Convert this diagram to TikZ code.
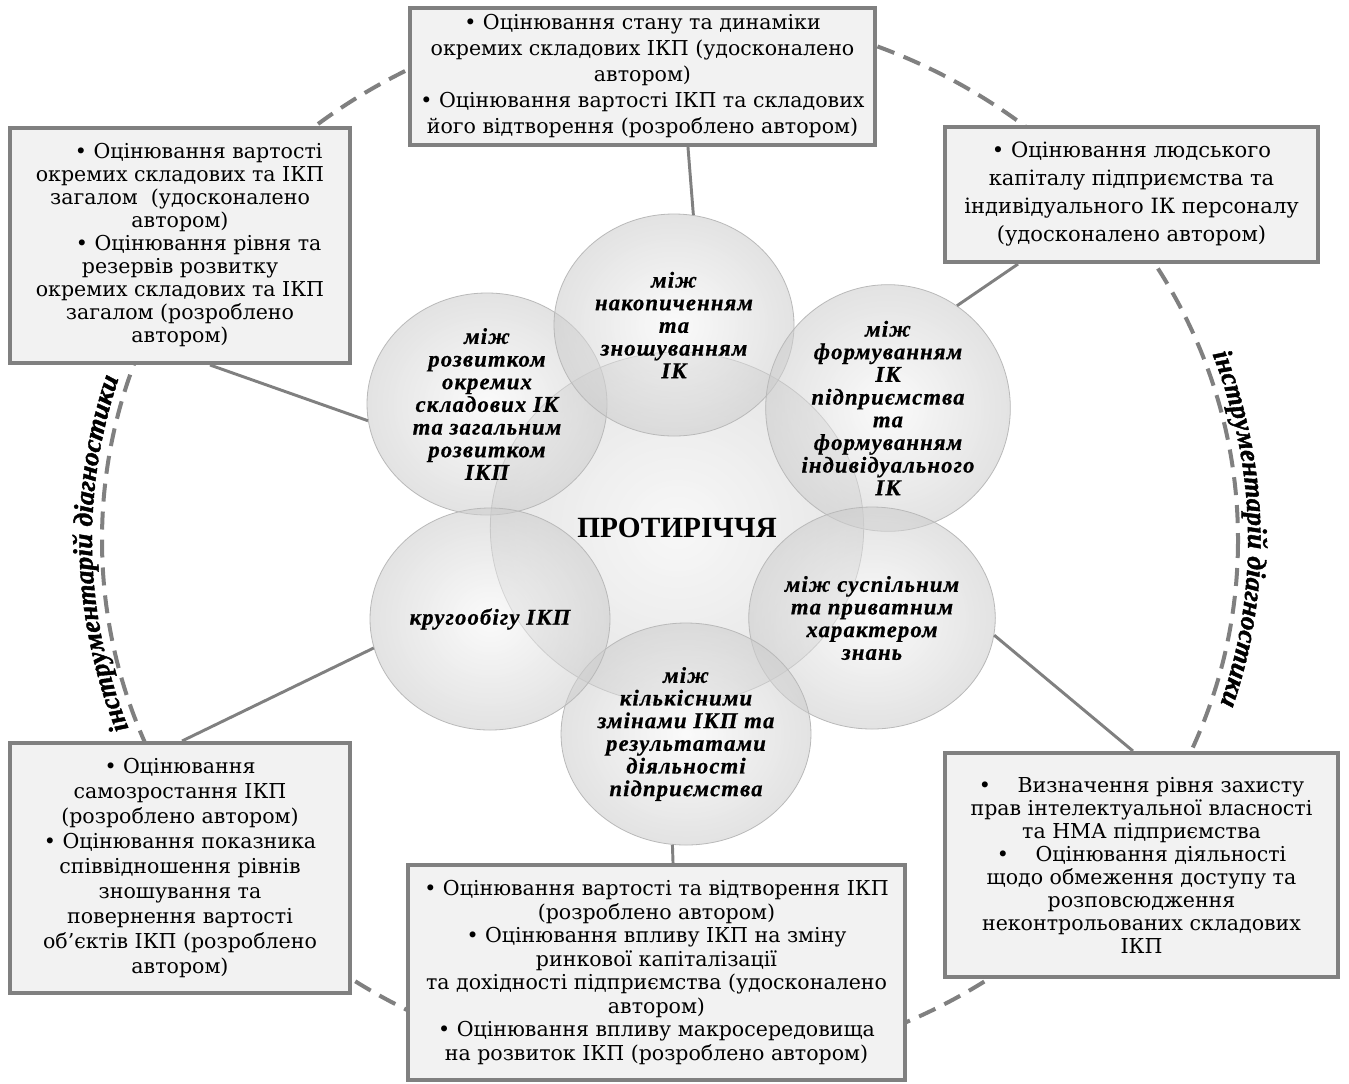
\documentclass[tikz,border=0pt]{standalone}
\usepackage{fontspec}
\setmainfont{DejaVu Serif}
\newfontfamily\circfont[LetterSpace=5.0,FakeBold=0.6]{Liberation Serif}
\newfontfamily\arcfont[FakeBold=1.5]{Liberation Serif Bold Italic}
\newfontfamily\headfont{Liberation Serif}
\usetikzlibrary{shapes.geometric,decorations.text}
\definecolor{boxfill}{HTML}{F2F2F2}
\definecolor{lineg}{HTML}{808080}
\begin{document}
\begin{tikzpicture}[x=0.75pt,y=-0.75pt,
  infobox/.style={draw=lineg, line width=3pt, fill=boxfill, inner sep=0pt, align=center,
    font=\fontsize{15.4pt}{#1}\selectfont},
  bubble/.style={ellipse, minimum width=180pt, minimum height=166.5pt, inner sep=0pt,
    draw=gray!55, line width=0.6pt, inner color=gray!6, outer color=gray!40,
    fill opacity=0.55, text opacity=1, align=center,
    font=\circfont\bfseries\itshape\fontsize{17pt}{17pt}\selectfont},
  bigbubble/.style={ellipse, minimum width=280pt, minimum height=264pt, inner sep=0pt,
    draw=gray!55, line width=0.6pt, inner color=gray!10, outer color=gray!35,
    fill opacity=0.55, text opacity=1,
    font=\headfont\bfseries\fontsize{22pt}{22pt}\selectfont},
  conn/.style={draw=lineg, line width=2.2pt},
  ring/.style={draw=lineg, line width=3pt, dash pattern=on 13.5pt off 7.5pt},
  arctext/.style={decorate, decoration={text along path, text align=center,
    text={|\arcfont\fontsize{20.5pt}{20.5pt}\selectfont|#1}}}
]
\fill[white] (0,0) rectangle (1349,1083);
\useasboundingbox (0,0) rectangle (1349,1083);

% dashed ring
\draw[ring] (670,540) ellipse [x radius=568, y radius=530];

% curved labels
\path[arctext={інструментарій діагностики}] (150.5,775.8) arc [start angle=154, end angle=203, x radius=578, y radius=538];
\path[arctext={інструментарій діагностики}] (1187.3,299.9) arc [start angle=-26.5, end angle=24.1, x radius=578, y radius=538];

% central circle
\node[bigbubble] (mid) at (677,528) {ПРОТИРІЧЧЯ};

% bubbles
\node[bubble] (c1) at (487,404) {між\\розвитком\\окремих\\складових ІК\\та загальним\\розвитком\\ІКП};
\node[bubble] (c2) at (674,325) {між\\накопиченням\\та\\зношуванням\\ІК};
\node[bubble] (c3) at (888,408) {між\\формуванням\\ІК\\підприємства\\та\\формуванням\\індивідуального\\ІК};
\node[bubble] (c4) at (872,618) {між суспільним\\та приватним\\характером\\знань};
\node[bubble] (c5) at (686,734) {між\\кількісними\\змінами ІКП та\\результатами\\діяльності\\підприємства};
\node[bubble] (c6) at (490,619) {кругообігу ІКП};

% boxes
\node[infobox=19.5pt, minimum width=348.75pt, minimum height=102.75pt] (bxT) at (642.5,76.5)
  {• Оцінювання стану та динаміки\\окремих складових ІКП (удосконалено\\автором)\\• Оцінювання вартості ІКП та складових\\його відтворення (розроблено автором)};
\node[infobox=21pt, minimum width=279.75pt, minimum height=101.25pt, font=\fontsize{15.8pt}{21pt}\selectfont] (bxTR) at (1131.5,194.5)
  {• Оцінювання людського\\капіталу підприємства та\\індивідуального ІК персоналу\\(удосконалено автором)};
\node[infobox=17.25pt, minimum width=255pt, minimum height=176.25pt] (bxTL) at (180,245.5)
  {\hspace*{28pt}• Оцінювання вартості\\окремих складових та ІКП\\загалом\ \ (удосконалено\\автором)\\\hspace*{28pt}• Оцінювання рівня та\\резервів розвитку\\окремих складових та ІКП\\загалом (розроблено\\автором)};
\node[infobox=18.75pt, minimum width=255pt, minimum height=187.5pt] (bxBL) at (180,868)
  {• Оцінювання\\самозростання ІКП\\(розроблено автором)\\• Оцінювання показника\\співвідношення рівнів\\зношування та\\повернення вартості\\об’єктів ІКП (розроблено\\автором)};
\node[infobox=17.6pt, minimum width=372.75pt, minimum height=161.25pt] (bxB) at (656.5,972.5)
  {• Оцінювання вартості та відтворення ІКП\\(розроблено автором)\\• Оцінювання впливу ІКП на зміну\\ринкової капіталізації\\та дохідності підприємства (удосконалено\\автором)\\• Оцінювання впливу макросередовища\\на розвиток ІКП (розроблено автором)};
\node[infobox=17.25pt, minimum width=294.75pt, minimum height=168pt] (bxBR) at (1141.5,865)
  {•\hspace{20pt}Визначення рівня захисту\\прав інтелектуальної власності\\та НМА підприємства\\•\hspace{20pt}Оцінювання діяльності\\щодо обмеження доступу та\\розповсюдження\\неконтрольованих складових\\ІКП};

% connectors
\draw[conn] ([xshift=34.1pt]bxT.south) -- (c2.80);
\draw[conn] ([xshift=-85.1pt]bxTR.south) -- (c3.56);
\draw[conn] ([xshift=22.5pt]bxTL.south) -- (c1.188);
\draw[conn] ([xshift=1.5pt]bxBL.north) -- (c6.194);
\draw[conn] ([xshift=12.4pt]bxB.north) -- (c5.263);
\draw[conn] ([xshift=-6.4pt]bxBR.north) -- (c4.352);
\end{tikzpicture}
\end{document}
